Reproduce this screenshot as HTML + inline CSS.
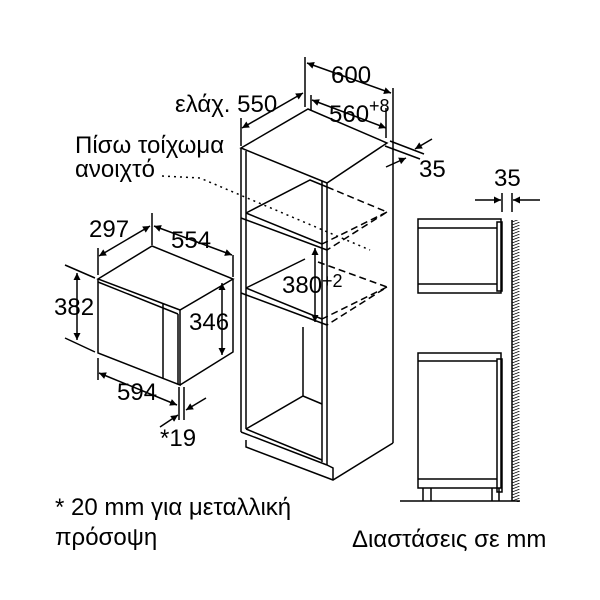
<!DOCTYPE html>
<html><head><meta charset="utf-8"><style>
body{margin:0;background:#fff}
svg{display:block}
text{font-family:"Liberation Sans",sans-serif;fill:#000}
</style></head><body>
<svg width="600" height="600" viewBox="0 0 600 600">
<defs>
<marker id="a" viewBox="0 0 10 10" refX="10" refY="5" markerWidth="10" markerHeight="7" orient="auto-start-reverse" markerUnits="userSpaceOnUse"><path d="M0,0L10,5L0,10z"/></marker>
<pattern id="h" width="8" height="3" patternUnits="userSpaceOnUse"><path d="M0,3L8,0" stroke="#000" stroke-width="0.8"/></pattern>
</defs>
<g fill="none" stroke="#000" stroke-width="1.5">
<!-- cabinet -->
<path d="M241,148 L308,109 L387,143 L327,183 Z"/>
<path d="M241,148 L241,432 M246,151 L246,429"/>
<path d="M327,183 L327,465 M322,181 L322,462"/>
<path d="M393,143 L393,443"/>
<path d="M241,432 L327,465 M246,429 L322,460"/>
<path d="M246,440 L246,447 L333,480 L393,443"/>
<path d="M327,465 L333,468 L333,480"/>
<path d="M241,218 L327,250 M246,213 L322,244 M246,213 L310,180 L327,187"/>
<path d="M241,293 L327,325 M246,288 L322,319 M246,288 L305,259"/>
<path d="M246,429 L303,396 L322,404 M303,396 L303,327"/>
<!-- dashed -->
<path stroke-dasharray="7,4" d="M327,187 L387,212 L327,250 M387,212 L322,244"/>
<path stroke-dasharray="7,4" d="M318,262 L387,287 L327,325 M387,287 L322,319"/>
<path stroke-dasharray="2,4" d="M162,176 L200,178 L370,250"/>
<!-- dims cabinet -->
<path d="M305,57 L305,107 M393,88 L393,143"/>
<path d="M307,63 L391,93" marker-start="url(#a)" marker-end="url(#a)"/>
<path d="M311,95 L311,110 M386,108 L386,138"/>
<path d="M312,100 L386,128" marker-start="url(#a)" marker-end="url(#a)"/>
<path d="M242,128 L303,93" marker-start="url(#a)" marker-end="url(#a)" />
<path d="M241,118 L241,146"/>
<path d="M385,146 L420,159 M390,141 L424,154"/>
<path d="M432,139 L415,149" marker-end="url(#a)"/>
<path d="M386,167 L406,158" marker-end="url(#a)"/>
<path d="M315,248 L315,322" marker-start="url(#a)" marker-end="url(#a)"/>
<!-- microwave -->
<path d="M98,279 L152,246 L233,279 L180,310 Z"/>
<path d="M98,279 L98,353 L180,385 L180,310 M180,385 L233,352 L233,279"/>
<path d="M98,282 L178,314 M163,304 L163,378 M178,314 L178,384"/>
<path d="M98,248 L98,275 M152,213 L152,245 M233,255 L233,277"/>
<path d="M99,256 L150,226" marker-start="url(#a)" marker-end="url(#a)"/>
<path d="M154,226 L232,255" marker-start="url(#a)" marker-end="url(#a)"/>
<path d="M65,265 L95,278 M65,338 L95,352"/>
<path d="M77,273 L77,340" marker-start="url(#a)" marker-end="url(#a)"/>
<path d="M222,283 L222,355" marker-start="url(#a)" marker-end="url(#a)"/>
<path d="M98,358 L98,380 M179,387 L179,420 M184,387 L184,420"/>
<path d="M99,373 L177,405" marker-start="url(#a)" marker-end="url(#a)"/>
<path d="M206,398 L186,410" marker-end="url(#a)"/>
<path d="M160,427 L178,415" marker-end="url(#a)"/>
<!-- side view -->
<path d="M418,219 L501,219 L501,293 L418,293 Z M418,228 L497,228 M418,284 L497,284"/>
<path d="M497,222 L502,222 L502,291 L497,291 Z"/>
<path d="M418,353 L501,353 L501,488 L418,488 Z M418,361 L497,361 M418,479 L497,479"/>
<path d="M497,359 L502,359 L502,492 L497,492 Z"/>
<path d="M423,488 L423,501 M431,488 L431,501 M492,488 L492,501 M499,488 L499,501"/>
<path d="M400,501 L520,501"/>
<path d="M512,220 L512,501"/>
<path d="M502,193 L502,212 M512,193 L512,212"/>
<path d="M475,200 L501,200" marker-end="url(#a)"/>
<path d="M540,200 L513,200" marker-end="url(#a)"/>
</g>
<rect x="512.5" y="220" width="7" height="282" fill="url(#h)"/>
<g font-size="24">
<text x="331" y="83">600</text>
<text x="175" y="112">ελάχ. 550</text>
<text x="329" y="122">560</text><text x="369" y="112" font-size="18">+8</text>
<text x="419" y="177">35</text>
<text x="75" y="153">Πίσω τοίχωμα</text>
<text x="75" y="177">ανοιχτό</text>
<text x="89" y="237">297</text>
<text x="171" y="248">554</text>
<text x="54" y="315">382</text>
<text x="189" y="330">346</text>
<text x="117" y="400">594</text>
<text x="160" y="446">*19</text>
<text x="282" y="293">380</text><text x="322" y="287" font-size="18">+2</text>
<text x="494" y="186">35</text>
<text x="55" y="515">* 20 mm για μεταλλική</text>
<text x="55" y="545">πρόσοψη</text>
<text x="352" y="547">Διαστάσεις σε mm</text>
</g>
</svg>
</body></html>
